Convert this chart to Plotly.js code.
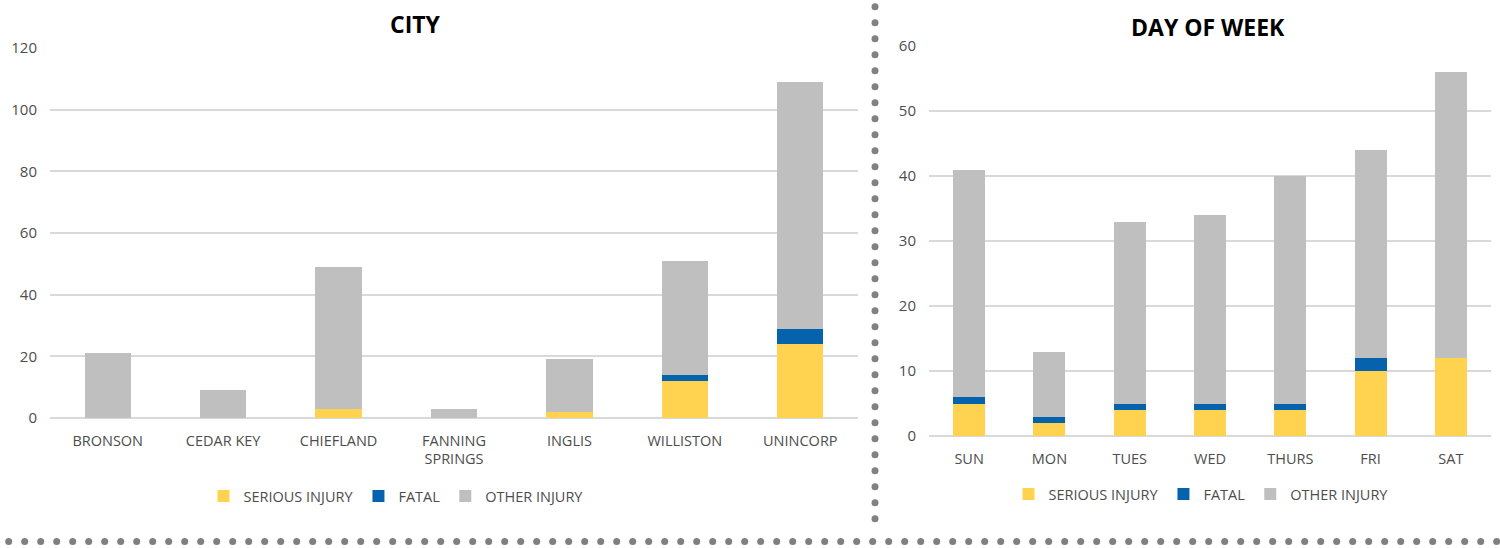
<!DOCTYPE html>
<html>
<head>
<meta charset="utf-8">
<script src="https://cdn.plot.ly/plotly-3.0.1.min.js"></script>
<style>html,body{margin:0;padding:0;background:#fff;}#chart{width:1500px;height:548px;}</style>
</head>
<body>
<div id="chart"></div>
<script>
// ---- data ----
var cities = ['BRONSON', 'CEDAR KEY', 'CHIEFLAND', 'FANNING<br>SPRINGS', 'INGLIS', 'WILLISTON', 'UNINCORP'];
var citySerious = [0, 0, 3, 0, 2, 12, 24];
var cityFatal = [0, 0, 0, 0, 0, 2, 5];
var cityOther = [21, 9, 46, 3, 17, 37, 80];

var days = ['SUN', 'MON', 'TUES', 'WED', 'THURS', 'FRI', 'SAT'];
var daySerious = [5, 2, 4, 4, 4, 10, 12];
var dayFatal = [1, 1, 1, 1, 1, 2, 0];
var dayOther = [35, 10, 28, 29, 35, 32, 44];

var seriesNames = ['SERIOUS INJURY', 'FATAL', 'OTHER INJURY'];
var seriesColors = ['#FFD34F', '#0563AD', '#BFBFBF'];

// ---- layout constants ----
var W = 1500, H = 548;
var FONT = '"Open Sans", sans-serif';
var TXT = '#4D4D4D';

function bar(x, y, i, xa, ya, leg) {
  return {
    type: 'bar', x: x, y: y, name: seriesNames[i],
    marker: {color: seriesColors[i], line: {width: 0}},
    xaxis: xa, yaxis: ya, legend: leg,
    hovertemplate: '%{x}: %{y}<extra>' + seriesNames[i] + '</extra>'
  };
}

var traces = [
  bar(cities, citySerious, 0, 'x', 'y', 'legend'),
  bar(cities, cityFatal, 1, 'x', 'y', 'legend'),
  bar(cities, cityOther, 2, 'x', 'y', 'legend'),
  bar(days, daySerious, 0, 'x2', 'y2', 'legend2'),
  bar(days, dayFatal, 1, 'x2', 'y2', 'legend2'),
  bar(days, dayOther, 2, 'x2', 'y2', 'legend2')
];

function px(v) { return v / W; }
function py(v) { return 1 - v / H; }

// decorative dotted separators
var shapes = [];
function dot(cx, cy) {
  shapes.push({
    type: 'circle', xref: 'paper', yref: 'paper',
    xsizemode: 'pixel', ysizemode: 'pixel',
    xanchor: px(cx), yanchor: py(cy),
    x0: -3.5, x1: 3.5, y0: -3.5, y1: 3.5,
    fillcolor: '#808080', line: {width: 0}
  });
}
for (var k = 0; k <= 32; k++) dot(875, 6.7 + 16 * k);
for (var j = 0; j <= 93; j++) dot(8.7 + 16 * j, 541.5);

var xCommon = {
  type: 'category', showgrid: false, zeroline: false, showline: false,
  ticks: '', tickfont: {family: FONT, size: 14.5, color: TXT},
  ticklabelstandoff: 12, fixedrange: true
};
var yCommon = {
  showgrid: true, gridcolor: '#D9D9D9', gridwidth: 1.5,
  zeroline: true, zerolinecolor: '#D9D9D9', zerolinewidth: 1.5,
  showline: false, ticks: '', tickfont: {family: FONT, size: 15, color: TXT},
  ticklabelstandoff: 12, fixedrange: true
};

var legendCommon = {
  orientation: 'h', xanchor: 'center', yanchor: 'middle',
  font: {family: FONT, size: 14.5, color: TXT},
  traceorder: 'normal', itemwidth: 30, bgcolor: 'rgba(0,0,0,0)'
};

var layout = {
  width: W, height: H,
  margin: {l: 0, r: 0, t: 0, b: 0, autoexpand: false},
  paper_bgcolor: '#fff', plot_bgcolor: '#fff',
  barmode: 'stack', bargap: 0.6,
  showlegend: true,
  xaxis: Object.assign({}, xCommon, {domain: [px(50), px(858)], anchor: 'y'}),
  yaxis: Object.assign({}, yCommon, {domain: [1 - 418 / H, 1 - 48 / H], range: [0, 120], dtick: 20, anchor: 'x'}),
  xaxis2: Object.assign({}, xCommon, {domain: [px(929), px(1491)], anchor: 'y2'}),
  yaxis2: Object.assign({}, yCommon, {domain: [1 - 436 / H, 1 - 46 / H], range: [0, 60], dtick: 10, anchor: 'x2'}),
  legend: Object.assign({}, legendCommon, {x: px(396), y: py(496)}),
  legend2: Object.assign({}, legendCommon, {x: px(1201), y: py(494)}),
  annotations: [
    {text: '<b>CITY</b>', xref: 'paper', yref: 'paper', x: px(415), y: py(24),
     showarrow: false, xanchor: 'center', yanchor: 'middle',
     font: {family: FONT, size: 23, color: '#000'}},
    {text: '<b>DAY OF WEEK</b>', xref: 'paper', yref: 'paper', x: px(1208), y: py(27),
     showarrow: false, xanchor: 'center', yanchor: 'middle',
     font: {family: FONT, size: 23, color: '#000'}}
  ],
  shapes: shapes
};

Plotly.newPlot('chart', traces, layout, {displayModeBar: false, staticPlot: false});
</script>
</body>
</html>
